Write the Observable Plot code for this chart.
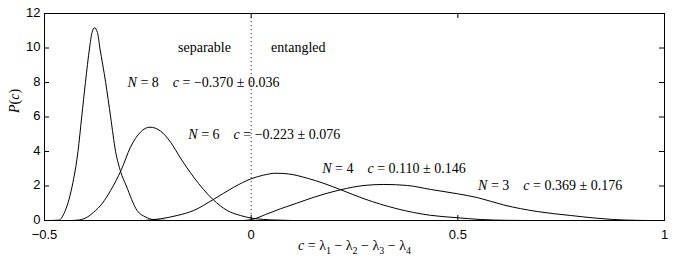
<!DOCTYPE html>
<html>
<head>
<meta charset="utf-8">
<script src="https://cdn.jsdelivr.net/npm/d3@7"></script>
<script src="https://cdn.jsdelivr.net/npm/@observablehq/plot@0.6"></script>
<style>
  body { margin: 0; background: #fff; }
  #chart svg { display: block; }
</style>
</head>
<body>
<div id="chart"></div>
<script>
// ---- data ----
const xTicks = [-0.5, 0, 0.5, 1];
const yTicks = [0, 2, 4, 6, 8, 10, 12];

const n8c = [-0.49, -0.465, -0.453, -0.433, -0.419, -0.41, -0.401, -0.391, -0.385, -0.379, -0.372, -0.366, -0.352, -0.34, -0.328, -0.316, -0.302, -0.276, -0.255, -0.236, -0.2];
const n8p = [0, 0.02, 0.4, 2.0, 4.0, 6.0, 8.0, 10.0, 10.9, 11.17, 10.9, 10.0, 8.0, 6.0, 4.0, 2.85, 2.0, 0.58, 0.2, 0.05, 0];

const n6c = [-0.44, -0.42, -0.4, -0.381, -0.36, -0.34, -0.314, -0.292, -0.268, -0.245, -0.219, -0.195, -0.171, -0.139, -0.092, -0.058, -0.026, 0.0, 0.03, 0.07, 0.1];
const n6p = [0, 0.02, 0.15, 0.48, 1.0, 1.74, 2.95, 4.25, 5.12, 5.41, 5.18, 4.54, 3.62, 2.51, 1.21, 0.58, 0.29, 0.14, 0.06, 0.02, 0];

const n4c = [-0.26, -0.219, -0.179, -0.139, -0.092, -0.042, 0.0, 0.03, 0.06, 0.09, 0.136, 0.176, 0.216, 0.273, 0.353, 0.434, 0.499, 0.554, 0.62, 0.68];
const n4p = [0, 0.1, 0.29, 0.58, 1.21, 1.93, 2.42, 2.63, 2.74, 2.7, 2.45, 2.15, 1.79, 1.26, 0.68, 0.3, 0.16, 0.06, 0.01, 0];

const n3c = [-0.02, 0.003, 0.035, 0.071, 0.11, 0.152, 0.216, 0.273, 0.321, 0.378, 0.434, 0.499, 0.547, 0.611, 0.692, 0.773, 0.837, 0.875, 0.93, 0.97];
const n3p = [0, 0.06, 0.35, 0.68, 1.0, 1.35, 1.78, 2.03, 2.09, 2.03, 1.8, 1.55, 1.33, 0.9, 0.52, 0.29, 0.13, 0.06, 0.01, 0];

const labelText = ["N = 8\u2003c = \u22120.370 \u00b1 0.036", "N = 6\u2003c = \u22120.223 \u00b1 0.076", "N = 4\u2003c = 0.110 \u00b1 0.146", "N = 3\u2003c = 0.369 \u00b1 0.176"];
const labelX = [-0.299, -0.152, 0.172, 0.549];
const labelY = [8.0, 5.0, 3.0, 2.0];

const regionText = ["separable", "entangled"];
const regionX = [-0.113, 0.114];
const regionY = [10, 10];

const xLabel = "c = \u03bb1 \u2212 \u03bb2 \u2212 \u03bb3 \u2212 \u03bb4";
const yLabel = "P(c)";

// ---- build tables ----
const series = [
  ["N8", n8c, n8p], ["N6", n6c, n6p], ["N4", n4c, n4p], ["N3", n3c, n3p]
].flatMap(([s, cs, ps]) => cs.map((c, i) => ({s, c, p: ps[i]})));
const labels = labelText.map((t, i) => ({t, x: labelX[i], y: labelY[i]}));
const regions = regionText.map((t, i) => ({t, x: regionX[i], y: regionY[i]}));

const serif = "Liberation Serif, Times New Roman, serif";
const fmt = d => (d < 0 ? "\u2212" : "") + Math.abs(d);

// inner frame size (px) used for inward tick length insets
const W = 674, H = 266, mL = 44, mR = 10, mT = 13, mB = 46, tick = 5;
const fw = W - mL - mR, fh = H - mT - mB;

const plot = Plot.plot({
  width: W,
  height: H,
  marginLeft: mL,
  marginRight: mR,
  marginTop: mT,
  marginBottom: mB,
  style: {fontFamily: "Liberation Sans, Arial, sans-serif", fontSize: "13px", color: "black", background: "white"},
  x: {domain: [-0.5, 1]},
  y: {domain: [0, 12]},
  marks: [
    Plot.ruleX([0], {stroke: "#333", strokeDasharray: "1.2,2.8", strokeWidth: 1}),
    Plot.line(series, {x: "c", y: "p", z: "s", stroke: "black", strokeWidth: 1, curve: "monotone-x"}),
    Plot.tickX(xTicks, {x: d => d, insetTop: fh - tick, stroke: "black"}),
    Plot.tickX(xTicks, {x: d => d, insetBottom: fh - tick, stroke: "black"}),
    Plot.tickY(yTicks, {y: d => d, insetRight: fw - tick, stroke: "black"}),
    Plot.tickY(yTicks, {y: d => d, insetLeft: fw - tick, stroke: "black"}),
    Plot.frame({stroke: "black", strokeWidth: 1}),
    Plot.axisX({ticks: xTicks, anchor: "bottom", tickSize: 0, tickPadding: 9, fontSize: 13, tickFormat: fmt}),
    Plot.axisY({ticks: yTicks, anchor: "left", tickSize: 0, tickPadding: 4, dy: -1, fontSize: 13, tickFormat: fmt}),
    Plot.text(labels, {x: "x", y: "y", text: "t", textAnchor: "start", fontFamily: serif, fontSize: 14, className: "rich"}),
    Plot.text(regions, {x: "x", y: "y", text: "t", textAnchor: "middle", fontFamily: serif, fontSize: 14}),
    Plot.text([yLabel], {frameAnchor: "left", dx: -30, dy: -4, rotate: -90, fontFamily: serif, fontSize: 14, className: "rich"}),
    Plot.text([xLabel], {frameAnchor: "bottom", dy: 29, fontFamily: serif, fontSize: 14, className: "rich"})
  ]
});

// ---- rich text: italic variables and subscripts ----
function richify(el) {
  const s = el.textContent;
  const segs = [];
  for (let i = 0; i < s.length; i++) {
    const ch = s[i];
    let type = "n";
    if ("NcP".includes(ch)) type = "i";
    else if (/[0-9]/.test(ch) && s[i - 1] === "\u03bb") type = "sub";
    if (segs.length && segs[segs.length - 1].type === type) segs[segs.length - 1].t += ch;
    else segs.push({type, t: ch});
  }
  while (el.firstChild) el.removeChild(el.firstChild);
  let shifted = false;
  for (const seg of segs) {
    const ts = document.createElementNS("http://www.w3.org/2000/svg", "tspan");
    ts.textContent = seg.t;
    if (seg.type === "i") ts.setAttribute("font-style", "italic");
    if (seg.type === "sub") { ts.setAttribute("dy", "4"); ts.setAttribute("font-size", "10"); shifted = true; }
    else if (shifted) { ts.setAttribute("dy", "-4"); shifted = false; }
    el.appendChild(ts);
  }
}
plot.querySelectorAll(".rich text").forEach(richify);

document.getElementById("chart").appendChild(plot);
</script>
</body>
</html>
